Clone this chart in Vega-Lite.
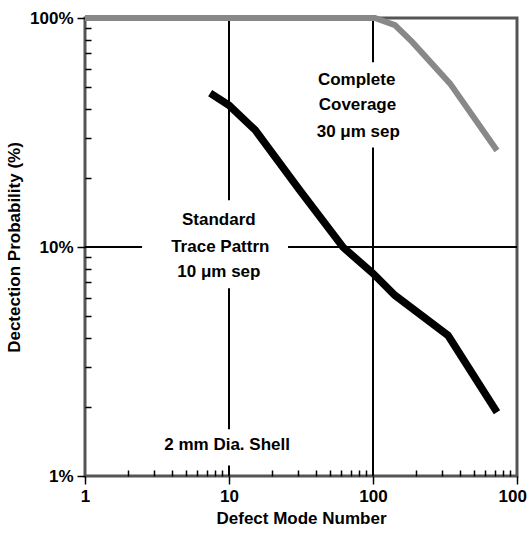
{
  "$schema": "https://vega.github.io/schema/vega-lite/v6.json",
  "autosize": {"type": "none"},
  "padding": {"left": 85, "top": 18, "right": 10, "bottom": 58},
  "width": 432,
  "height": 458,
  "background": "white",
  "config": {
    "view": {"stroke": "#555555", "strokeWidth": 3},
    "font": "Liberation Sans",
    "axis": {
      "domain": false,
      "grid": false,
      "labelFont": "Liberation Sans",
      "labelFontWeight": "bold",
      "labelFontSize": 17,
      "labelColor": "black",
      "titleFont": "Liberation Sans",
      "titleFontWeight": "bold",
      "titleFontSize": 17,
      "titleColor": "black",
      "tickColor": "black",
      "tickWidth": 1.5
    }
  },
  "datasets": {
    "standard": [
      {"x": 7.4, "y": 47.0},
      {"x": 10, "y": 41.6},
      {"x": 15.2, "y": 32.4},
      {"x": 31, "y": 17.7},
      {"x": 62, "y": 9.97},
      {"x": 100, "y": 7.67},
      {"x": 142, "y": 6.15},
      {"x": 332, "y": 4.11},
      {"x": 726, "y": 1.9}
    ],
    "complete": [
      {"x": 1, "y": 100},
      {"x": 103, "y": 100},
      {"x": 142, "y": 93},
      {"x": 187, "y": 78.6},
      {"x": 343, "y": 51.7},
      {"x": 726, "y": 26.4}
    ],
    "vgrid": [
      {"x": 10, "y": 1, "y2": 1.11},
      {"x": 10, "y": 1.6, "y2": 6.6},
      {"x": 10, "y": 16.0, "y2": 100},
      {"x": 100, "y": 1, "y2": 27.2},
      {"x": 100, "y": 64.1, "y2": 100}
    ],
    "hgrid": [
      {"y": 10, "x": 1, "x2": 2.49},
      {"y": 10, "x": 25.7, "x2": 1000}
    ],
    "labels": [
      {"x": 8.5, "y": 13.1, "text": "Standard"},
      {"x": 8.7, "y": 9.97, "text": "Trace Pattrn"},
      {"x": 8.5, "y": 7.74, "text": "10 μm sep"},
      {"x": 77, "y": 53.5, "text": "Complete"},
      {"x": 78, "y": 41.6, "text": "Coverage"},
      {"x": 79, "y": 31.7, "text": "30 μm sep"},
      {"x": 9.7, "y": 1.36, "text": "2 mm Dia. Shell"}
    ]
  },
  "encoding": {
    "x": {
      "field": "x",
      "type": "quantitative",
      "scale": {"type": "log", "domain": [1, 1000], "nice": false, "zero": false},
      "axis": {
        "title": "Defect Mode Number",
        "values": [1, 2, 3, 4, 5, 6, 7, 8, 9, 10, 20, 30, 40, 50, 60, 70, 80, 90, 100, 200, 300, 400, 500, 600, 700, 800, 900, 1000],
        "labelExpr": "indexof([1,10,100,1000], datum.value) >= 0 ? datum.value : ''",
        "tickSize": {"condition": {"test": "indexof([1,10,100,1000], datum.value) >= 0", "value": 8}, "value": -6},
        "labelPadding": 4,
        "titlePadding": 6,
        "labelOverlap": false,
        "labelFlush": false
      }
    },
    "y": {
      "field": "y",
      "type": "quantitative",
      "scale": {"type": "log", "domain": [1, 100], "nice": false, "zero": false},
      "axis": {
        "title": "Dectection Probability (%)",
        "values": [1, 2, 3, 4, 5, 6, 7, 8, 9, 10, 20, 30, 40, 50, 60, 70, 80, 90, 100],
        "labelExpr": "indexof([1,10,100], datum.value) >= 0 ? datum.value + '%' : ''",
        "tickSize": {"condition": {"test": "indexof([1,10,100], datum.value) >= 0", "value": 8}, "value": -6},
        "labelPadding": 4,
        "titlePadding": 6,
        "labelOverlap": false,
        "labelFlush": false
      }
    }
  },
  "layer": [
    {
      "data": {"name": "vgrid"},
      "mark": {"type": "rule", "color": "black", "strokeWidth": 2},
      "encoding": {"y2": {"field": "y2"}}
    },
    {
      "data": {"name": "hgrid"},
      "mark": {"type": "rule", "color": "black", "strokeWidth": 2},
      "encoding": {"x2": {"field": "x2"}}
    },
    {
      "data": {"name": "complete"},
      "mark": {"type": "line", "color": "#888888", "strokeWidth": 6, "clip": false},
      "encoding": {}
    },
    {
      "data": {"name": "standard"},
      "mark": {"type": "line", "color": "black", "strokeWidth": 7.5},
      "encoding": {}
    },
    {
      "data": {"name": "labels"},
      "mark": {"type": "text", "font": "Liberation Sans", "fontWeight": "bold", "fontSize": 17, "align": "center", "baseline": "middle", "color": "black"},
      "encoding": {"text": {"field": "text"}}
    }
  ]
}
